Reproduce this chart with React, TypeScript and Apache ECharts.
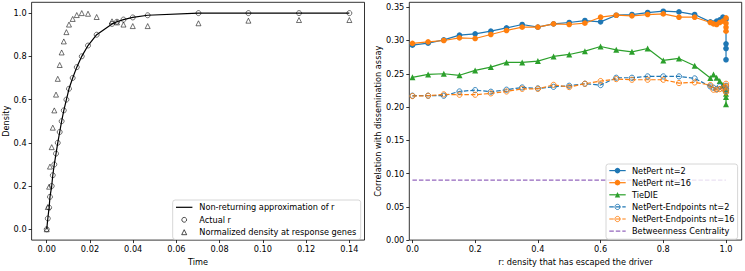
import React, { useEffect, useRef } from "react";
import * as echarts from "echarts";

// ---------- data ----------
// simulation time points (left panel x)
const times = [
  0, 0.0005, 0.0011, 0.0015, 0.0023, 0.0028, 0.0035, 0.0043, 0.0051, 0.006,
  0.0069, 0.0079, 0.0091, 0.0103, 0.012, 0.0139, 0.0162, 0.0191, 0.0231, 0.0302,
  0.0325, 0.0355, 0.0398, 0.0467, 0.0702, 0.0933, 0.1167, 0.14,
];
// r levels: "Actual r" (left y) and right-panel x
const rLevels = [
  0, 0.05, 0.1, 0.15, 0.2, 0.25, 0.3, 0.35, 0.4, 0.45, 0.5, 0.55, 0.6, 0.65,
  0.7, 0.75, 0.8, 0.85, 0.9, 0.95, 0.96, 0.97, 0.98, 0.99, 1, 1, 1, 1,
];
// non-returning approximation curve
const approxR = [
  0, 0.05, 0.1, 0.15, 0.2, 0.25, 0.3, 0.35, 0.4, 0.45, 0.5, 0.55, 0.6, 0.65,
  0.7, 0.75, 0.8, 0.85, 0.9, 0.95, 0.96, 0.97, 0.98, 0.99, 1, 1, 1, 1,
];
const responseDensity = [
  0, 0.103, 0.197, 0.29, 0.38, 0.47, 0.55, 0.623, 0.696, 0.76, 0.818, 0.869,
  0.912, 0.947, 0.973, 0.991, 1.0, 0.997, 0.982, 0.962, 0.957, 0.947, 0.94,
  0.94, 0.953, 0.965, 0.968, 0.968,
];

const netPert2 = [
  0.293, 0.296, 0.301, 0.308, 0.31, 0.314, 0.319, 0.324, 0.32, 0.325, 0.327,
  0.33, 0.328, 0.338, 0.339, 0.342, 0.344, 0.343, 0.339, 0.328, 0.326, 0.329,
  0.331, 0.335, 0.332, 0.295, 0.288, 0.271,
];
const netPert16 = [
  0.2956, 0.298, 0.3, 0.304, 0.303, 0.309, 0.315, 0.32, 0.32, 0.325, 0.324,
  0.326, 0.335, 0.338, 0.337, 0.339, 0.34, 0.335, 0.335, 0.327, 0.325, 0.324,
  0.327, 0.329, 0.334, 0.326, 0.32, 0.314,
];
const tieDIE = [
  0.2447, 0.249, 0.25, 0.2477, 0.255, 0.26, 0.267, 0.267, 0.269, 0.276, 0.279,
  0.284, 0.291, 0.286, 0.283, 0.288, 0.27, 0.273, 0.262, 0.2437, 0.249, 0.244,
  0.239, 0.233, 0.226, 0.22, 0.215, 0.204,
];
const endpoints2 = [
  0.217, 0.217, 0.217, 0.2234, 0.2254, 0.223, 0.226, 0.2294, 0.228, 0.2304,
  0.232, 0.235, 0.233, 0.244, 0.244, 0.246, 0.246, 0.246, 0.243, 0.231, 0.229,
  0.227, 0.231, 0.228, 0.232, 0.228, 0.226, 0.224,
];
const endpoints16 = [
  0.2165, 0.217, 0.219, 0.2185, 0.2185, 0.2205, 0.2234, 0.2274, 0.2274, 0.2333,
  0.23, 0.235, 0.239, 0.242, 0.241, 0.241, 0.241, 0.236, 0.237, 0.233, 0.226,
  0.226, 0.227, 0.228, 0.235, 0.231, 0.225, 0.222,
];
const betweenness = 0.09;

// tick labels
const leftXTicks = [0, 0.02, 0.04, 0.06, 0.08, 0.1, 0.12, 0.14];
const leftYTicks = [0, 0.2, 0.4, 0.6, 0.8, 1.0];
const rightXTicks = [0, 0.2, 0.4, 0.6, 0.8, 1.0];
const rightYTicks = [0, 0.05, 0.1, 0.15, 0.2, 0.25, 0.3, 0.35];

// names
const leftNames = [
  "Non-returning approximation of r",
  "Actual r",
  "Normalized density at response genes",
];
const rightNames = [
  "NetPert nt=2",
  "NetPert nt=16",
  "TieDIE",
  "NetPert-Endpoints nt=2",
  "NetPert-Endpoints nt=16",
  "Betweenness Centrality",
];

const BLUE = "#1f77b4";
const ORANGE = "#ff7f0e";
const GREEN = "#2ca02c";
const PURPLE = "#9467bd";
const FONT = "DejaVu Sans";
const FS = 8.2;
const DASH = [4.5, 2];
const LW = 1.2;

function axisCommon(ticks: number[], digits: number, min: number, max: number) {
  return {
    type: "value" as const,
    min,
    max,
    axisLine: { show: false, onZero: false },
    splitLine: { show: false },
    axisTick: {
      show: true,
      length: 3,
      customValues: ticks,
      lineStyle: { color: "#000", width: 0.8 },
    },
    axisLabel: {
      customValues: ticks,
      formatter: (v: number) => v.toFixed(digits),
      color: "#000",
      fontSize: FS,
      fontFamily: FONT,
      margin: 5,
    },
    nameTextStyle: { color: "#000", fontSize: FS, fontFamily: FONT },
    nameLocation: "middle" as const,
  };
}

export default function App() {
  const ref = useRef<HTMLDivElement>(null);

  useEffect(() => {
    if (!ref.current) return;
    const chart = echarts.init(ref.current, null, { renderer: "svg" });

    const gridL = { left: 31.6, top: 2.3, width: 332.9, height: 241.4 };
    const gridR = { left: 409.3, top: 2.3, width: 332.4, height: 241 };

    const textEl = (x: number, y: number, text: string) => ({
      type: "text",
      style: {
        x,
        y,
        text,
        fill: "#000",
        fontSize: FS,
        fontFamily: FONT,
        verticalAlign: "middle",
        align: "left",
      },
      z: 100,
    });

    // left legend
    const lgL = { x: 172.7, y: 200, w: 188, h: 39.5 };
    const lhx1 = 176, lhx2 = 192.4, lcx = 184.2, ltx = 199.3;
    const lRows = [207.3, 219.8, 232.2];
    const tri = (cx: number, cy: number, s: number) => [
      [cx, cy - s],
      [cx - s, cy + s],
      [cx + s, cy + s],
    ];
    const leftLegend = [
      {
        type: "rect",
        shape: { x: lgL.x, y: lgL.y, width: lgL.w, height: lgL.h, r: 2.5 },
        style: { fill: "rgba(255,255,255,0.8)", stroke: "#cccccc", lineWidth: 0.8 },
        z: 99,
      },
      {
        type: "line",
        shape: { x1: lhx1, y1: lRows[0], x2: lhx2, y2: lRows[0] },
        style: { stroke: "#000", lineWidth: LW },
        z: 100,
      },
      textEl(ltx, lRows[0], leftNames[0]),
      {
        type: "circle",
        shape: { cx: lcx, cy: lRows[1], r: 2.4 },
        style: { fill: "none", stroke: "#000", lineWidth: 0.7 },
        z: 100,
      },
      textEl(ltx, lRows[1], leftNames[1]),
      {
        type: "polygon",
        shape: { points: tri(lcx, lRows[2], 2.5) },
        style: { fill: "none", stroke: "#000", lineWidth: 0.7 },
        z: 100,
      },
      textEl(ltx, lRows[2], leftNames[2]),
    ];

    // right legend
    const lgR = { x: 606, y: 164, w: 131.6, h: 75.2 };
    const rhx1 = 609.3, rhx2 = 625.7, rcx = 617.5, rtx = 632;
    const rRows = [170.6, 182.7, 194.8, 206.9, 219, 231.1];
    const rLine = (y: number, color: string, dashed: boolean) => ({
      type: "line",
      shape: { x1: rhx1, y1: y, x2: rhx2, y2: y },
      style: { stroke: color, lineWidth: LW, lineDash: dashed ? DASH : null },
      z: 100,
    });
    const rightLegend: any[] = [
      {
        type: "rect",
        shape: { x: lgR.x, y: lgR.y, width: lgR.w, height: lgR.h, r: 2.5 },
        style: { fill: "rgba(255,255,255,0.8)", stroke: "#cccccc", lineWidth: 0.8 },
        z: 99,
      },
      rLine(rRows[0], BLUE, false),
      { type: "circle", shape: { cx: rcx, cy: rRows[0], r: 2.8 }, style: { fill: BLUE }, z: 101 },
      textEl(rtx, rRows[0], rightNames[0]),
      rLine(rRows[1], ORANGE, false),
      { type: "circle", shape: { cx: rcx, cy: rRows[1], r: 2.8 }, style: { fill: ORANGE }, z: 101 },
      textEl(rtx, rRows[1], rightNames[1]),
      rLine(rRows[2], GREEN, false),
      { type: "polygon", shape: { points: tri(rcx, rRows[2], 2.7) }, style: { fill: GREEN }, z: 101 },
      textEl(rtx, rRows[2], rightNames[2]),
      rLine(rRows[3], BLUE, true),
      {
        type: "circle",
        shape: { cx: rcx, cy: rRows[3], r: 2.6 },
        style: { fill: "none", stroke: BLUE, lineWidth: 0.9 },
        z: 101,
      },
      textEl(rtx, rRows[3], rightNames[3]),
      rLine(rRows[4], ORANGE, true),
      {
        type: "circle",
        shape: { cx: rcx, cy: rRows[4], r: 2.6 },
        style: { fill: "none", stroke: ORANGE, lineWidth: 0.9 },
        z: 101,
      },
      textEl(rtx, rRows[4], rightNames[4]),
      rLine(rRows[5], PURPLE, true),
      textEl(rtx, rRows[5], rightNames[5]),
    ];

    const solidSeries = (name: string, vals: number[], color: string, symbol: string) => ({
      type: "line",
      name,
      xAxisIndex: 1,
      yAxisIndex: 1,
      data: rLevels.map((r, i) => [r, vals[i]]),
      symbol,
      symbolSize: symbol === "triangle" ? 6 : 5.6,
      showSymbol: true,
      itemStyle: { color, borderWidth: 0 },
      lineStyle: { color, width: LW },
      emphasis: { disabled: true },
    });
    const dashedSeries = (name: string, vals: number[], color: string) => ({
      type: "line",
      name,
      xAxisIndex: 1,
      yAxisIndex: 1,
      data: rLevels.map((r, i) => [r, vals[i]]),
      symbol: "circle",
      symbolSize: 5.2,
      showSymbol: true,
      itemStyle: { color: "rgba(0,0,0,0)", borderColor: color, borderWidth: 0.9 },
      lineStyle: { color, width: LW, type: DASH },
      emphasis: { disabled: true },
    });

    const option: any = {
      animation: false,
      textStyle: { fontFamily: FONT },
      grid: [
        { ...gridL, show: true, borderColor: "#000", borderWidth: 0.8, backgroundColor: "transparent" },
        { ...gridR, show: true, borderColor: "#000", borderWidth: 0.8, backgroundColor: "transparent" },
      ],
      xAxis: [
        {
          ...axisCommon(leftXTicks, 2, -0.007, 0.147),
          gridIndex: 0,
          name: "Time",
          nameGap: 16,
        },
        {
          ...axisCommon(rightXTicks, 1, -0.01, 1.05),
          gridIndex: 1,
          name: "r: density that has escaped the driver",
          nameGap: 16,
        },
      ],
      yAxis: [
        {
          ...axisCommon(leftYTicks, 1, -0.05, 1.05),
          gridIndex: 0,
          name: "Density",
          nameGap: 22,
        },
        {
          ...axisCommon(rightYTicks, 2, 0, 0.3574),
          gridIndex: 1,
          name: "Correlation with dissemination assay",
          nameGap: 26,
        },
      ],
      series: [
        {
          type: "line",
          name: leftNames[0],
          xAxisIndex: 0,
          yAxisIndex: 0,
          data: times.map((t, i) => [t, approxR[i]]),
          symbol: "none",
          showSymbol: false,
          lineStyle: { color: "#000", width: LW },
          emphasis: { disabled: true },
        },
        {
          type: "scatter",
          name: leftNames[1],
          xAxisIndex: 0,
          yAxisIndex: 0,
          data: times.map((t, i) => [t, rLevels[i]]),
          symbol: "circle",
          symbolSize: 5,
          itemStyle: { color: "rgba(0,0,0,0)", borderColor: "#000", borderWidth: 0.7 },
          emphasis: { disabled: true },
        },
        {
          type: "scatter",
          name: leftNames[2],
          xAxisIndex: 0,
          yAxisIndex: 0,
          data: times.map((t, i) => [t, responseDensity[i]]),
          symbol: "triangle",
          symbolSize: 5,
          itemStyle: { color: "rgba(0,0,0,0)", borderColor: "#000", borderWidth: 0.7 },
          emphasis: { disabled: true },
        },
        solidSeries(rightNames[0], netPert2, BLUE, "circle"),
        solidSeries(rightNames[1], netPert16, ORANGE, "circle"),
        solidSeries(rightNames[2], tieDIE, GREEN, "triangle"),
        dashedSeries(rightNames[3], endpoints2, BLUE),
        dashedSeries(rightNames[4], endpoints16, ORANGE),
        {
          type: "line",
          name: rightNames[5],
          xAxisIndex: 1,
          yAxisIndex: 1,
          data: [
            [rLevels[0], betweenness],
            [rLevels[rLevels.length - 1], betweenness],
          ],
          symbol: "none",
          showSymbol: false,
          lineStyle: { color: PURPLE, width: LW, type: DASH },
          emphasis: { disabled: true },
        },
      ],
      graphic: [...leftLegend, ...rightLegend],
    };

    chart.setOption(option);
    return () => chart.dispose();
  }, []);

  return (
    <div
      ref={ref}
      style={{ position: "absolute", left: 0, top: 0, width: 745, height: 271, background: "#fff" }}
    />
  );
}
